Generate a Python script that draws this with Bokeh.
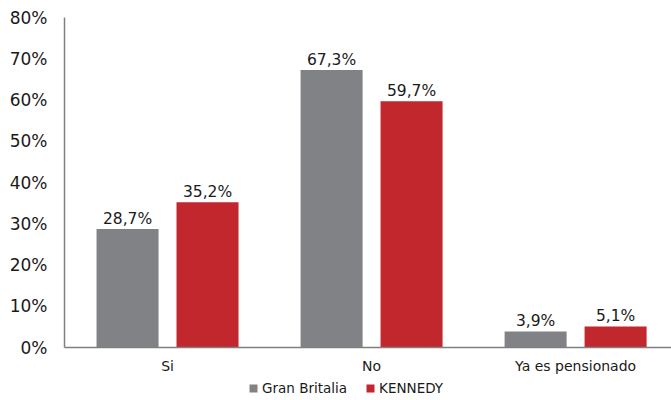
from bokeh.plotting import figure
from bokeh.layouts import column
from bokeh.models import ColumnDataSource, Range1d, FixedTicker, PrintfTickFormatter, Legend, LegendItem
from bokeh.core.properties import value
from bokeh.embed import file_html
from bokeh.resources import INLINE

categories = ["Si", "No", "Ya es pensionado"]
series_names = ["Gran Britalia", "KENNEDY"]
gran_britalia = [28.7, 67.3, 3.9]
kennedy = [35.2, 59.7, 5.1]
y_ticks = [0, 10, 20, 30, 40, 50, 60, 70, 80]

colors = ["#808285", "#C1272D"]
offsets = [-0.196, 0.196]
bar_w = 0.304
FONT = "DejaVu Sans"

p = figure(width=671, height=376, output_backend="svg", toolbar_location=None,
           x_range=Range1d(-0.005, 2.97), y_range=Range1d(0, 80),
           min_border_left=64, min_border_right=0, min_border_top=17, min_border_bottom=29)
p.outline_line_color = None
p.background_fill_color = "white"
p.border_fill_color = "white"
p.xgrid.visible = False
p.ygrid.visible = False

centers = [i + 0.5 for i in range(len(categories))]
sources = []
for vals, col, off in zip([gran_britalia, kennedy], colors, offsets):
    src = ColumnDataSource(dict(
        x=[c + off for c in centers],
        top=vals,
        label=[f"{v:.1f}".replace(".", ",") + "%" for v in vals],
    ))
    sources.append(src)
    p.vbar(x="x", top="top", width=bar_w, bottom=0, source=src,
           fill_color=col, line_color=None)
    p.text(x="x", y="top", text="label", source=src, text_align="center",
           text_baseline="bottom", y_offset=-1, text_font=value(FONT),
           text_font_size=value("15.5px"), text_color="#1a1a1a")

# x axis
p.xaxis.ticker = FixedTicker(ticks=centers)
p.xaxis.major_label_overrides = {c: n for c, n in zip(centers, categories)}
p.xaxis.major_tick_line_color = None
p.xaxis.major_tick_out = 0
p.xaxis.major_tick_in = 0
p.xaxis.minor_tick_line_color = None
p.xaxis.axis_line_color = "#7f7f7f"
p.xaxis.axis_line_width = 1.5
p.xaxis.major_label_standoff = 10
p.xaxis.major_label_text_font = FONT
p.xaxis.major_label_text_font_size = "14px"
p.xaxis.major_label_text_color = "#1a1a1a"

# y axis
p.yaxis.ticker = FixedTicker(ticks=y_ticks)
p.yaxis.formatter = PrintfTickFormatter(format="%d%%")
p.yaxis.major_tick_line_color = None
p.yaxis.major_tick_out = 0
p.yaxis.major_tick_in = 0
p.yaxis.minor_tick_line_color = None
p.yaxis.axis_line_color = "#7f7f7f"
p.yaxis.axis_line_width = 1.5
p.yaxis.major_label_standoff = 17
p.yaxis.major_label_text_font = FONT
p.yaxis.major_label_text_font_size = "17px"
p.yaxis.major_label_text_color = "#1a1a1a"

# legend strip
lg = figure(width=671, height=24, output_backend="svg", toolbar_location=None,
            x_range=Range1d(0, 1), y_range=Range1d(0, 1),
            x_axis_type=None, y_axis_type=None, min_border=0)
lg.outline_line_color = None
lg.xgrid.visible = False
lg.ygrid.visible = False
legend_renderers = []
for src, c in zip(sources, colors):
    r = lg.vbar(x="x", top="top", width=bar_w, source=src, fill_color=c, line_color=None)
    r.visible = False
    legend_renderers.append(r)
legend = Legend(items=[LegendItem(label=n, renderers=[r]) for n, r in zip(series_names, legend_renderers)],
                orientation="horizontal", location=(184, 4),
                glyph_width=10, glyph_height=10, label_standoff=4, spacing=18,
                label_text_font=FONT, label_text_font_size="13.5px", label_text_color="#1a1a1a",
                padding=0, margin=0, border_line_color=None, background_fill_alpha=0,
                inactive_fill_alpha=0)
lg.add_layout(legend, "center")

layout = column(p, lg, spacing=0)
open("out.html", "w").write(file_html(layout, INLINE))
